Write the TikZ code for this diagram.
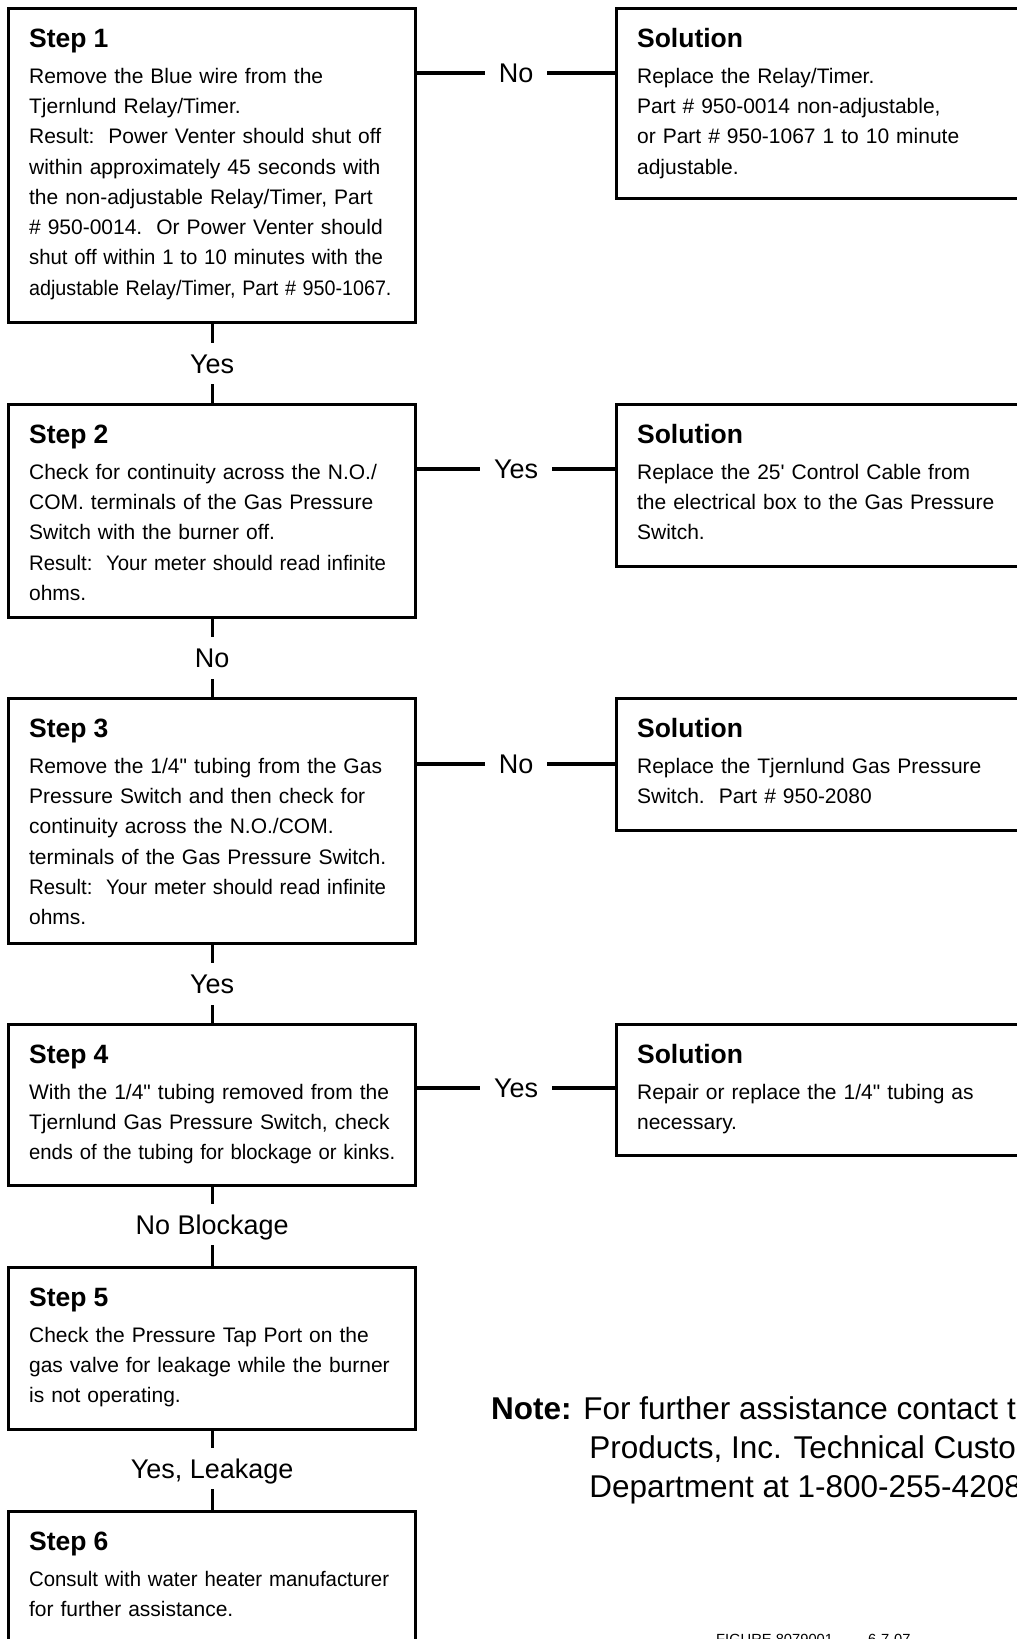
\documentclass[tikz,border=0pt]{standalone}
\usepackage{fontspec}
\usepackage{graphicx}
\newfontfamily\arialfont{Liberation Sans}

\tikzset{
  stepbox/.style={draw, line width=3.2pt, anchor=north west, align=left,
    text width=366pt, inner xsep=20.5pt, inner ysep=0pt, text height=38.5pt,
    font=\arialfont\fontsize{21}{30.3}\selectfont},
  solbox/.style={stepbox, text width=443pt},
  answer/.style={fill=white, inner xsep=14pt, inner ysep=11pt,
    text height=19.5pt, text depth=0pt,
    font=\arialfont\fontsize{27}{27}\selectfont},
  link/.style={line width=3.2pt}
}
\newcommand{\head}[1]{{\bfseries\fontsize{26.5}{30.3}\selectfont #1}\\[5.7pt]}
\newcommand{\squeeze}[2][0.95]{\scalebox{#1}[1]{#2}}

\begin{document}
\begin{tikzpicture}[x=1pt,y=-1pt]
\useasboundingbox (0,0) rectangle (1017,1639);
\clip (0,0) rectangle (1017,1639);

% left column
\node[stepbox, text depth=275.5pt] (s1) at (7,7) {\head{Step 1}
Remove the Blue wire from the\\
Tjernlund Relay/Timer.\\
Result:\ \ Power Venter should shut off\\
within approximately 45 seconds with\\
the non-adjustable Relay/Timer, Part\\
\# 950-0014.\ \ Or Power Venter should\\
\squeeze[0.97]{shut off within 1 to 10 minutes with the}\\
\squeeze[0.94]{adjustable Relay/Timer, Part \# 950-1067.}};

\node[stepbox, text depth=174.5pt] (s2) at (7,403) {\head{Step 2}
Check for continuity across the N.O./\\
COM. terminals of the Gas Pressure\\
Switch with the burner off.\\
\squeeze[0.97]{Result:\ \ Your meter should read infinite}\\
ohms.};

\node[stepbox, text depth=206.5pt] (s3) at (7,697) {\head{Step 3}
Remove the 1/4" tubing from the Gas\\
Pressure Switch and then check for\\
continuity across the N.O./COM.\\
terminals of the Gas Pressure Switch.\\
\squeeze[0.97]{Result:\ \ Your meter should read infinite}\\
ohms.};

\node[stepbox, text depth=122.5pt] (s4) at (7,1023) {\head{Step 4}
With the 1/4" tubing removed from the\\
Tjernlund Gas Pressure Switch, check\\
\squeeze[0.965]{ends of the tubing for blockage or kinks.}};

\node[stepbox, text depth=123.5pt] (s5) at (7,1266) {\head{Step 5}
Check the Pressure Tap Port on the\\
gas valve for leakage while the burner\\
is not operating.};

\node[stepbox, text depth=161.5pt] (s6) at (7,1510) {\head{Step 6}
\squeeze[0.97]{Consult with water heater manufacturer}\\
for further assistance.};

% right column
\node[solbox, text depth=151.5pt] (r1) at (615,7) {\head{Solution}
Replace the Relay/Timer.\\
Part \# 950-0014 non-adjustable,\\
or Part \# 950-1067 1 to 10 minute\\
adjustable.};

\node[solbox, text depth=123.5pt] (r2) at (615,403) {\head{Solution}
Replace the 25' Control Cable from\\
the electrical box to the Gas Pressure\\
Switch.};

\node[solbox, text depth=93.5pt] (r3) at (615,697) {\head{Solution}
Replace the Tjernlund Gas Pressure\\
Switch.\ \ Part \# 950-2080};

\node[solbox, text depth=92.5pt] (r4) at (615,1023) {\head{Solution}
Repair or replace the 1/4" tubing as\\
necessary.};

% connectors
\draw[link] ([yshift=-66pt]s1.north east) -- node[answer]{No} ([yshift=-66pt]r1.north west);
\draw[link] ([yshift=-66pt]s2.north east) -- node[answer]{Yes} ([yshift=-66pt]r2.north west);
\draw[link] ([yshift=-67pt]s3.north east) -- node[answer]{No} ([yshift=-67pt]r3.north west);
\draw[link] ([yshift=-65pt]s4.north east) -- node[answer]{Yes} ([yshift=-65pt]r4.north west);

\draw[link] (s1.south) -- node[answer]{Yes} (s2.north);
\draw[link] (s2.south) -- node[answer]{No} (s3.north);
\draw[link] (s3.south) -- node[answer]{Yes} (s4.north);
\draw[link] (s4.south) -- node[answer, yshift=2pt]{No Blockage} (s5.north);
\draw[link] (s5.south) -- node[answer, yshift=2pt]{Yes, Leakage} (s6.north);

% note and figure number
\node[anchor=base west, inner sep=0pt, font=\arialfont\fontsize{31.5}{39}\selectfont] (note) at (491,1419)
  {\textbf{Note:} \begin{tabular}[t]{@{\hspace{6pt}}l@{}}\hspace{-6pt}For further assistance contact the\\
   Products, Inc. Technical Customer\\
   Department at 1-800-255-4208\end{tabular}};
\node[anchor=base west, inner sep=0pt, font=\arialfont\fontsize{14.7}{16}\selectfont] (fig) at (716,1644)
  {FIGURE 8079001\hspace{35pt}6-7-07};
\end{tikzpicture}
\end{document}
